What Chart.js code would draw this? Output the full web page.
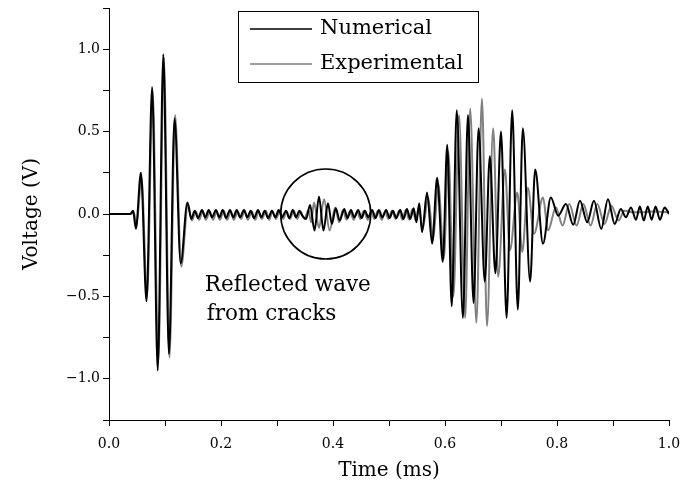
<!DOCTYPE html>
<html>
<head>
<meta charset="utf-8">
<script src="https://cdn.jsdelivr.net/npm/chart.js@4"></script>
<style>
    body { margin: 0; background: #fff; }
    #wrap { width: 683px; height: 490px; }
</style>
</head>
<body>
<div id="wrap"><canvas id="waveChart" width="683" height="490"></canvas></div>
<script>
// Time (ms) and voltage (V) at the peaks and troughs
const numTime = [
    0, 0.038, 0.043, 0.048, 0.057, 0.067, 0.077, 0.087, 0.097, 0.107, 0.117, 0.128, 0.140,
    0.147, 0.153, 0.159, 0.166, 0.172, 0.178, 0.184, 0.191, 0.197, 0.203, 0.209, 0.216,
    0.222, 0.228, 0.234, 0.241, 0.247, 0.253, 0.259, 0.266, 0.272, 0.278, 0.284, 0.291,
    0.297, 0.303, 0.309, 0.316, 0.322, 0.328, 0.334, 0.340, 0.345, 0.352, 0.359, 0.367,
    0.375, 0.383, 0.391, 0.398, 0.405, 0.412, 0.420, 0.426, 0.432, 0.438, 0.445, 0.451,
    0.457, 0.463, 0.470, 0.476, 0.482, 0.488, 0.495, 0.501, 0.507, 0.513, 0.520, 0.526,
    0.532, 0.538, 0.544, 0.549, 0.554, 0.559, 0.568, 0.577, 0.586, 0.596, 0.604, 0.612,
    0.621, 0.632, 0.641, 0.651, 0.660, 0.671, 0.680, 0.690, 0.700, 0.710, 0.720, 0.730,
    0.739, 0.752, 0.761, 0.775, 0.789, 0.802, 0.816, 0.829, 0.841, 0.854, 0.866, 0.879,
    0.891, 0.903, 0.914, 0.923, 0.932, 0.941, 0.948, 0.955, 0.962, 0.969, 0.976, 0.984,
    0.992, 1.0
];
const numVolt = [
    0, 0, 0.02, -0.09, 0.25, -0.53, 0.77, -0.95, 0.97, -0.85, 0.58, -0.30, 0.07,
    -0.03, 0.02, -0.025, 0.025, -0.02, 0.025, -0.02, 0.025, -0.02, 0.025, -0.025, 0.025,
    -0.02, 0.025, -0.02, 0.025, -0.02, 0.02, -0.025, 0.025, -0.02, 0.02, -0.025, 0.02,
    -0.02, 0.025, -0.02, 0.02, -0.025, 0.025, -0.02, 0.02, -0.01, -0.03, 0.055, -0.10,
    0.105, -0.10, 0.065, -0.06, 0.035, -0.04, 0.03, -0.025, 0.025, -0.02, 0.025, -0.025,
    0.02, -0.02, 0.025, -0.025, 0.025, -0.02, 0.025, -0.025, 0.02, -0.025, 0.025, -0.03,
    0.03, -0.03, 0.035, -0.05, 0.065, -0.11, 0.13, -0.18, 0.22, -0.29, 0.42, -0.56,
    0.63, -0.63, 0.60, -0.54, 0.52, -0.41, 0.35, -0.36, 0.50, -0.63, 0.63, -0.58,
    0.52, -0.41, 0.27, -0.18, 0.10, -0.01, 0.06, -0.065, 0.08, -0.05, 0.08, -0.09,
    0.09, -0.06, 0.03, -0.02, 0.04, -0.035, 0.045, -0.04, 0.045, -0.035, 0.045, -0.035,
    0.04, 0
];

const expTime = [
    0, 0.040, 0.044, 0.049, 0.058, 0.068, 0.078, 0.088, 0.098, 0.108, 0.118, 0.129, 0.141,
    0.148, 0.155, 0.161, 0.167, 0.173, 0.180, 0.186, 0.192, 0.198, 0.205, 0.211, 0.217,
    0.223, 0.230, 0.236, 0.242, 0.248, 0.255, 0.261, 0.267, 0.273, 0.280, 0.286, 0.292,
    0.298, 0.305, 0.311, 0.317, 0.323, 0.330, 0.336, 0.342, 0.349, 0.356, 0.361, 0.366,
    0.375, 0.384, 0.394, 0.404, 0.411, 0.418, 0.424, 0.430, 0.437, 0.443, 0.449, 0.455,
    0.462, 0.468, 0.474, 0.480, 0.487, 0.493, 0.499, 0.505, 0.512, 0.518, 0.524, 0.530,
    0.536, 0.542, 0.548, 0.553, 0.560, 0.570, 0.579, 0.588, 0.598, 0.606, 0.615, 0.625,
    0.636, 0.645, 0.656, 0.666, 0.675, 0.686, 0.695, 0.707, 0.716, 0.729, 0.738, 0.748,
    0.759, 0.775, 0.784, 0.798, 0.810, 0.822, 0.835, 0.847, 0.860, 0.872, 0.885, 0.897,
    0.910, 0.920, 0.935, 0.950, 0.970, 1.0
];
const expVolt = [
    0, 0, 0.015, -0.07, 0.22, -0.50, 0.75, -0.90, 0.95, -0.87, 0.60, -0.32, 0.06,
    -0.04, 0.015, -0.035, 0.015, -0.035, 0.015, -0.035, 0.015, -0.035, 0.02, -0.035, 0.015,
    -0.035, 0.015, -0.03, 0.02, -0.035, 0.015, -0.035, 0.015, -0.03, 0.02, -0.035, 0.015,
    -0.03, 0.02, -0.03, 0.015, -0.03, 0.02, -0.03, 0.015, -0.03, 0.025, -0.05, 0.07,
    -0.085, 0.09, -0.10, 0.04, -0.05, 0.025, -0.035, 0.015, -0.035, 0.015, -0.03, 0.02,
    -0.035, 0.015, -0.03, 0.02, -0.035, 0.015, -0.03, 0.02, -0.03, 0.02, -0.035, 0.025,
    -0.035, 0.03, -0.04, 0.04, -0.09, 0.10, -0.15, 0.18, -0.27, 0.38, -0.50, 0.60,
    -0.63, 0.64, -0.66, 0.70, -0.68, 0.52, -0.38, 0.27, -0.22, 0.13, -0.23, 0.16,
    -0.12, 0.10, -0.10, 0.04, -0.07, 0.06, -0.07, 0.06, -0.07, 0.06, -0.06, 0.05,
    -0.04, 0.02, 0.01, 0.01, 0.015, 0.01
];

const seriesNames = ['Numerical', 'Experimental'];
const seriesColors = ['#000000', '#808080'];

// circled "reflected wave" region and its note
const circleAt = { x: 0.387, y: 0 };
const noteLines = ['Reflected wave', 'from cracks'];
const noteAt = { x: 0.171, y: -0.47 };

const serif = "'DejaVu Serif', 'Liberation Serif', serif";

function toPoints(xs, ys) {
    return xs.map((x, i) => ({ x: x, y: ys[i] }));
}

function fmt(v) {
    return v.toFixed(1).replace('-', '\u2212');
}

const overlayPlugin = {
    id: 'overlay',
    afterDatasetsDraw(chart) {
        const { ctx, scales: { x, y }, chartArea } = chart;
        ctx.save();

        // circle
        ctx.beginPath();
        ctx.arc(x.getPixelForValue(circleAt.x), y.getPixelForValue(circleAt.y), 45, 0, Math.PI * 2);
        ctx.strokeStyle = '#000';
        ctx.lineWidth = 1.6;
        ctx.stroke();

        // note text
        ctx.fillStyle = '#000';
        ctx.font = '21.5px ' + serif;
        ctx.textAlign = 'left';
        ctx.textBaseline = 'alphabetic';
        const nx = x.getPixelForValue(noteAt.x);
        const ny = y.getPixelForValue(noteAt.y);
        noteLines.forEach((line, i) => ctx.fillText(line, nx + i * 2, ny + i * 29));

        // legend box
        const bx = chartArea.left + 129, by = chartArea.top + 3;
        ctx.lineWidth = 1;
        ctx.strokeStyle = '#000';
        ctx.strokeRect(bx + 0.5, by + 0.5, 240, 71);
        ctx.font = '21px ' + serif;
        ctx.textBaseline = 'middle';
        chart.data.datasets.forEach((ds, i) => {
            const ly = by + 18 + i * 35;
            ctx.beginPath();
            ctx.moveTo(bx + 12, ly);
            ctx.lineTo(bx + 74, ly);
            ctx.strokeStyle = ds.borderColor;
            ctx.lineWidth = 1.6;
            ctx.stroke();
            ctx.fillText(ds.label, bx + 82, ly);
        });
        ctx.restore();
    }
};

const chart = new Chart(document.getElementById('waveChart'), {
    type: 'line',
    data: {
        datasets: [
            {
                label: seriesNames[0],
                data: toPoints(numTime, numVolt),
                borderColor: seriesColors[0],
                borderWidth: 2
            },
            {
                label: seriesNames[1],
                data: toPoints(expTime, expVolt),
                borderColor: seriesColors[1],
                borderWidth: 2
            }
        ]
    },
    options: {
        responsive: false,
        devicePixelRatio: 1,
        animation: false,
        layout: { padding: { top: 8, right: 14, left: 0, bottom: 0 } },
        elements: {
            point: { radius: 0 },
            line: { cubicInterpolationMode: 'monotone' }
        },
        plugins: {
            legend: { display: false },
            tooltip: { enabled: false }
        },
        scales: {
            x: {
                type: 'linear',
                min: 0,
                max: 1,
                afterFit: (s) => { s.height = 70; s.paddingLeft = 0; s.paddingRight = 0; },
                border: { color: '#000', width: 1 },
                grid: { drawOnChartArea: false, color: '#000', tickLength: 6 },
                ticks: {
                    stepSize: 0.1,
                    maxRotation: 0,
                    color: '#000',
                    padding: 10,
                    font: { family: serif, size: 14 },
                    callback: (v) => (Math.round(v * 10) % 2 === 0 ? fmt(v) : '')
                },
                title: {
                    display: true,
                    text: 'Time (ms)',
                    color: '#000',
                    font: { family: serif, size: 20 },
                    padding: { top: 0, bottom: 7 }
                }
            },
            y: {
                min: -1.25,
                max: 1.25,
                afterFit: (s) => { s.width = 109; s.paddingTop = 0; s.paddingBottom = 0; },
                border: { color: '#000', width: 1 },
                grid: { drawOnChartArea: false, color: '#000', tickLength: 6 },
                ticks: {
                    stepSize: 0.25,
                    color: '#000',
                    padding: 3,
                    font: { family: serif, size: 14 },
                    callback: (v) => (Math.round(v * 4) % 2 === 0 ? fmt(v) : '')
                },
                title: {
                    display: true,
                    text: 'Voltage (V)',
                    color: '#000',
                    font: { family: serif, size: 20 },
                    padding: { top: 20, bottom: 0 }
                }
            }
        }
    },
    plugins: [overlayPlugin]
});
</script>
</body>
</html>
